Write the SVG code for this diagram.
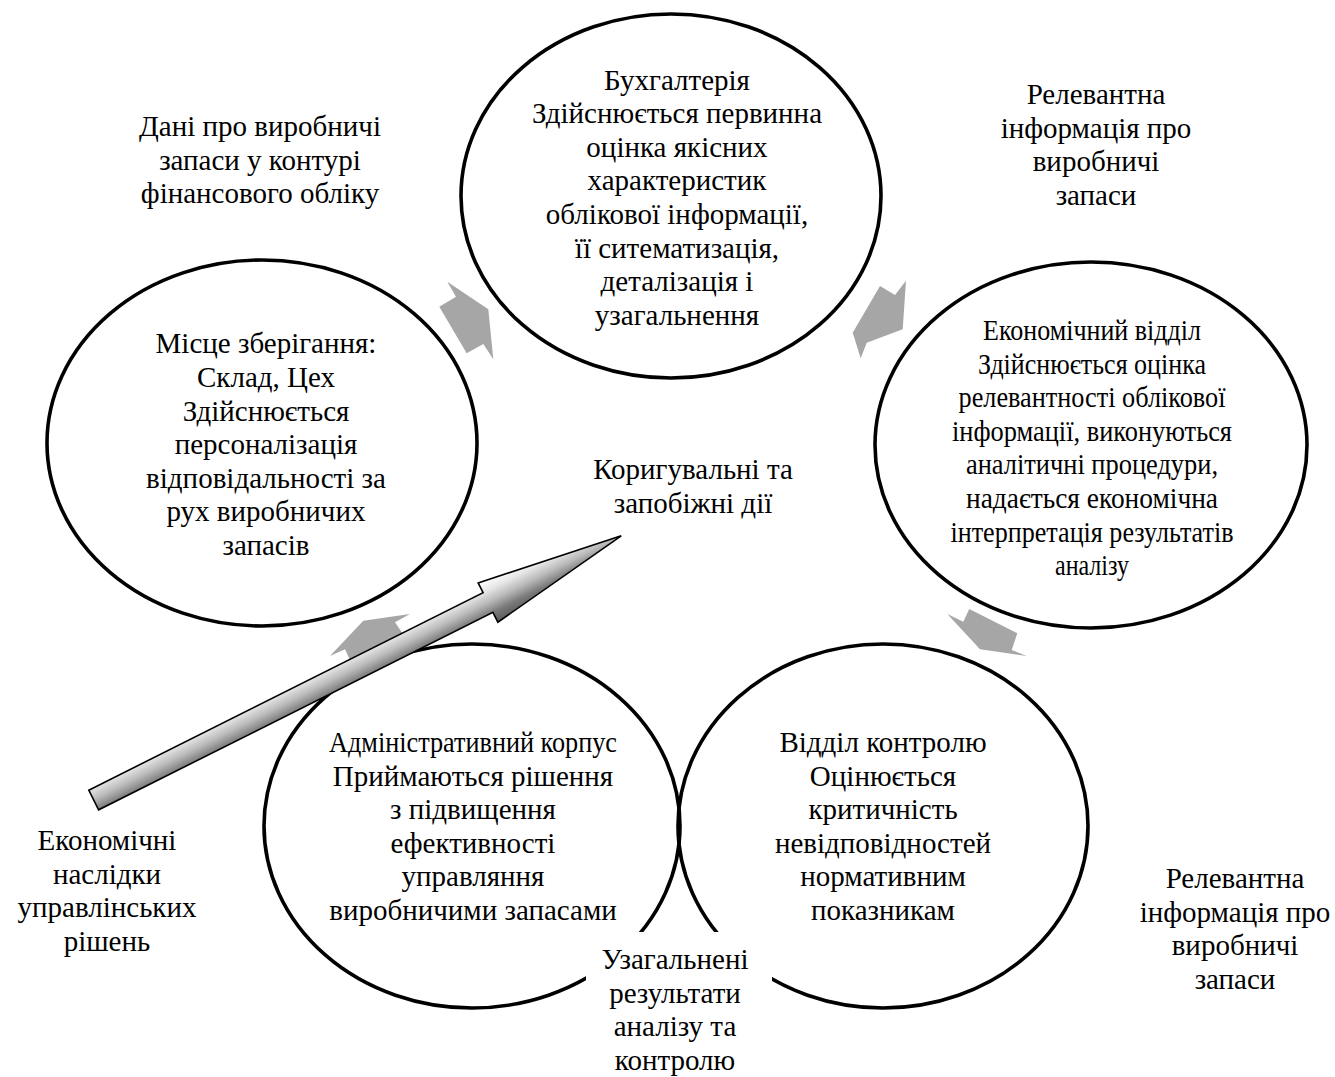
<svg xmlns="http://www.w3.org/2000/svg" width="1335" height="1077" viewBox="0 0 1335 1077">
<style>
.ell{fill:none;stroke:#000;stroke-width:3.6}
.t{font-family:"Liberation Serif","Times New Roman",serif;font-size:29px;fill:#000;text-anchor:middle}
.ga{fill:#a6a6a6;stroke:none}
</style>
<defs>
<linearGradient id="bigGrad" gradientUnits="userSpaceOnUse" x1="0" y1="-22" x2="0" y2="22">
<stop offset="0" stop-color="#ffffff"/>
<stop offset="0.25" stop-color="#e6e6e6"/>
<stop offset="0.5" stop-color="#b9b9b9"/>
<stop offset="0.75" stop-color="#7a7a7a"/>
<stop offset="1" stop-color="#5a5a5a"/>
</linearGradient>
</defs>
<rect width="1335" height="1077" fill="#fff"/>

<g id="n-buhgalteriya">
<ellipse class="ell" cx="671" cy="196" rx="210" ry="182"/>
<text class="t" x="677" y="89.5">Бухгалтерія</text>
<text class="t" x="677" y="123.1">Здійснюється первинна</text>
<text class="t" x="677" y="156.7">оцінка якісних</text>
<text class="t" x="677" y="190.3">характеристик</text>
<text class="t" x="677" y="223.9">облікової інформації,</text>
<text class="t" x="677" y="257.5">її ситематизація,</text>
<text class="t" x="677" y="291.1">деталізація і</text>
<text class="t" x="677" y="324.7">узагальнення</text>
</g>

<g id="n-mistse">
<ellipse class="ell" cx="262" cy="443" rx="215" ry="183"/>
<text class="t" x="266" y="353.3">Місце зберігання:</text>
<text class="t" x="266" y="386.9">Склад, Цех</text>
<text class="t" x="266" y="420.5">Здійснюється</text>
<text class="t" x="266" y="454.1">персоналізація</text>
<text class="t" x="266" y="487.7">відповідальності за</text>
<text class="t" x="266" y="521.3">рух виробничих</text>
<text class="t" x="266" y="554.9">запасів</text>
</g>

<g id="n-econ">
<ellipse class="ell" cx="1091" cy="445" rx="216" ry="183"/>
<text class="t" x="1092" y="340" textLength="218" lengthAdjust="spacingAndGlyphs">Економічний відділ</text>
<text class="t" x="1092" y="373.6" textLength="228" lengthAdjust="spacingAndGlyphs">Здійснюється оцінка</text>
<text class="t" x="1092" y="407.2" textLength="267" lengthAdjust="spacingAndGlyphs">релевантності облікової</text>
<text class="t" x="1092" y="440.8" textLength="280" lengthAdjust="spacingAndGlyphs">інформації, виконуються</text>
<text class="t" x="1092" y="474.4" textLength="252" lengthAdjust="spacingAndGlyphs">аналітичні процедури,</text>
<text class="t" x="1092" y="508" textLength="252" lengthAdjust="spacingAndGlyphs">надається економічна</text>
<text class="t" x="1092" y="541.6" textLength="283" lengthAdjust="spacingAndGlyphs">інтерпретація результатів</text>
<text class="t" x="1092" y="575.2" textLength="74" lengthAdjust="spacingAndGlyphs">аналізу</text>
</g>

<g id="n-admin">
<ellipse class="ell" cx="472" cy="826" rx="208" ry="182"/>
<text class="t" x="473" y="752" textLength="288" lengthAdjust="spacingAndGlyphs">Адміністративний корпус</text>
<text class="t" x="473" y="785.6">Приймаються рішення</text>
<text class="t" x="473" y="819.2">з підвищення</text>
<text class="t" x="473" y="852.8">ефективності</text>
<text class="t" x="473" y="886.4">управляння</text>
<text class="t" x="473" y="920">виробничими запасами</text>
</g>

<g id="n-control">
<ellipse class="ell" cx="883" cy="826" rx="205" ry="182"/>
<text class="t" x="883" y="752">Відділ контролю</text>
<text class="t" x="883" y="785.6">Оцінюється</text>
<text class="t" x="883" y="819.2">критичність</text>
<text class="t" x="883" y="852.8">невідповідностей</text>
<text class="t" x="883" y="886.4">нормативним</text>
<text class="t" x="883" y="920">показникам</text>
</g>

<g id="label-dani">
<text class="t" x="260" y="136">Дані про виробничі</text>
<text class="t" x="260" y="169.6">запаси у контурі</text>
<text class="t" x="260" y="203.2">фінансового обліку</text>
</g>

<g id="label-relevant-top">
<text class="t" x="1096" y="104">Релевантна</text>
<text class="t" x="1096" y="137.6">інформація про</text>
<text class="t" x="1096" y="171.2">виробничі</text>
<text class="t" x="1096" y="204.8">запаси</text>
</g>

<g id="label-koryg">
<text class="t" x="693" y="479">Коригувальні та</text>
<text class="t" x="693" y="512.6">запобіжні дії</text>
</g>

<g id="label-naslidky">
<text class="t" x="107" y="850">Економічні</text>
<text class="t" x="107" y="883.6">наслідки</text>
<text class="t" x="107" y="917.2">управлінських</text>
<text class="t" x="107" y="950.8">рішень</text>
</g>

<g id="label-relevant-bottom">
<text class="t" x="1235" y="888">Релевантна</text>
<text class="t" x="1235" y="921.6">інформація про</text>
<text class="t" x="1235" y="955.2">виробничі</text>
<text class="t" x="1235" y="988.8">запаси</text>
</g>

<g id="connectors">
<polygon class="ga" points="439.3,306.7 456,296.7 447.3,281.7 488.3,309.3 493.3,359.3 483.3,344 466.7,353.3"/>
<polygon class="ga" points="880,286 895,295 906,280.7 902.7,329.3 866.7,342.7 860.7,358.3 852.7,332.7"/>
<polygon class="ga" points="947.3,614 963.3,621.7 969.3,609 1017.3,633.3 1011.7,650 1026.7,656 980,649.3"/>
<polygon class="ga" points="330,656 363.3,620.7 410,614 395,622.3 405,637 355,671 345,649.3"/>
<polygon transform="translate(93.7,800) rotate(-26.6)" fill="url(#bigGrad)" stroke="#000" stroke-width="1.6" stroke-linejoin="miter" points="0,-11 441,-11 441,-22 590,0 441,22 441,11 0,11"/>
</g>

<g id="label-uzagal">
<rect x="586" y="932" width="186" height="145" fill="#fff"/>
<text class="t" x="675" y="969">Узагальнені</text>
<text class="t" x="675" y="1002.6">результати</text>
<text class="t" x="675" y="1036.2">аналізу та</text>
<text class="t" x="675" y="1069.8">контролю</text>
</g>
</svg>
